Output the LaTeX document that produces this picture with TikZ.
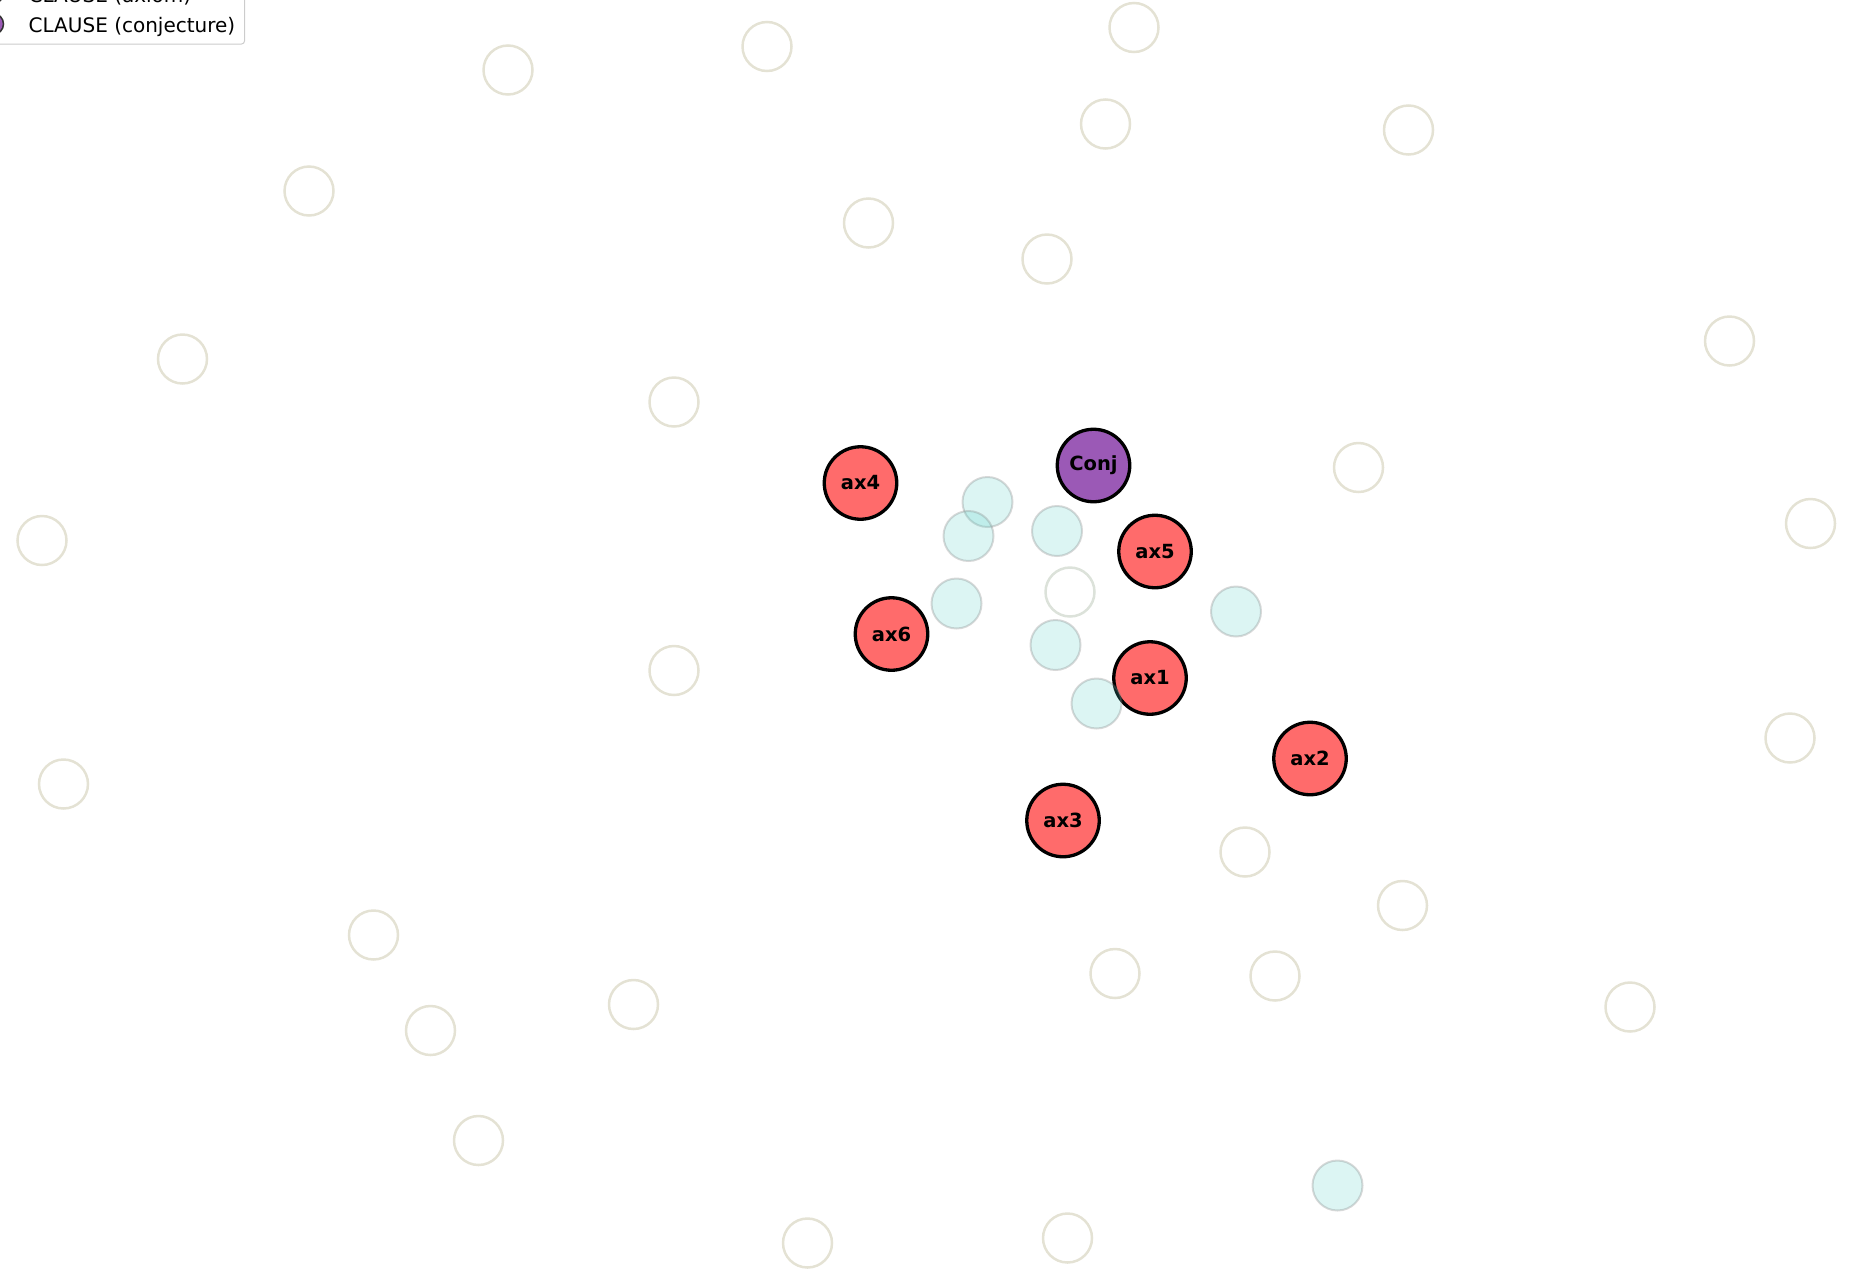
\documentclass[tikz,border=0pt]{standalone}
\usepackage{fontspec}
\setmainfont{DejaVu Sans}
\definecolor{axred}{HTML}{FF6B6B}
\definecolor{conjpurple}{HTML}{9B59B6}
\definecolor{tealfill}{HTML}{4ECDC4}
\definecolor{beige}{HTML}{E4E2D4}
\definecolor{whiteedge}{HTML}{DCE2DA}
\definecolor{legendedge}{HTML}{CCCCCC}
\tikzset{
  mainnode/.style={circle, draw=black, line width=3.3pt, minimum size=72.5pt, inner sep=0pt, font=\fontsize{19.5}{20}\selectfont\bfseries},
  axnode/.style={mainnode, fill=axred},
  conjnode/.style={mainnode, fill=conjpurple},
  tealnode/.style={circle, fill=tealfill, fill opacity=0.2, draw=gray, draw opacity=0.3, line width=2pt, minimum size=50pt, inner sep=0pt},
  beigenode/.style={circle, draw=beige, line width=2.5pt, minimum size=49pt, inner sep=0pt},
  whitenode/.style={circle, draw=whiteedge, fill=white, line width=2.5pt, minimum size=49pt, inner sep=0pt},
  legtext/.style={anchor=west, inner sep=0pt, font=\fontsize{20}{22}\selectfont},
  legmark/.style={circle, draw=black!80, line width=1.5pt, minimum size=21pt, inner sep=0pt},
}
\begin{document}
\begin{tikzpicture}[x=1pt, y=-1pt]
\useasboundingbox (0,0) rectangle (1870,1275);
\clip (0,0) rectangle (1870,1275);
% beige outline circles
\node[beigenode] (b1) at (508,70) {};
\node[beigenode] (b2) at (767,46.5) {};
\node[beigenode] (b3) at (1134,27.5) {};
\node[beigenode] (b4) at (1105.5,124) {};
\node[beigenode] (b5) at (1408.5,130) {};
\node[beigenode] (b6) at (309,191) {};
\node[beigenode] (b7) at (868.5,223) {};
\node[beigenode] (b8) at (1047,259) {};
\node[beigenode] (b9) at (182.5,359) {};
\node[beigenode] (b10) at (1729.5,341) {};
\node[beigenode] (b11) at (674,402) {};
\node[beigenode] (b12) at (1358.5,467.5) {};
\node[beigenode] (b13) at (42,540.5) {};
\node[beigenode] (b14) at (1810.5,523.5) {};
\node[beigenode] (b15) at (674,670.5) {};
\node[beigenode] (b16) at (1790,738) {};
\node[beigenode] (b17) at (63.5,784) {};
\node[beigenode] (b18) at (1245,852) {};
\node[beigenode] (b19) at (1402.5,905.5) {};
\node[beigenode] (b20) at (373.5,935) {};
\node[beigenode] (b21) at (1115,973.5) {};
\node[beigenode] (b22) at (1275,976) {};
\node[beigenode] (b23) at (1630,1007) {};
\node[beigenode] (b24) at (430.5,1030.5) {};
\node[beigenode] (b25) at (633.5,1004.5) {};
\node[beigenode] (b26) at (478.5,1140.5) {};
\node[beigenode] (b27) at (807.5,1243) {};
\node[beigenode] (b28) at (1067.5,1238) {};
\node[whitenode] (w1) at (1070,592) {};
% main nodes
\node[conjnode] (conj) at (1093.5,465.5) {Conj};
\node[axnode] (ax4) at (860.5,483) {ax4};
\node[axnode] (ax5) at (1155,551.5) {ax5};
\node[axnode] (ax6) at (891.5,634) {ax6};
\node[axnode] (ax1) at (1150,678) {ax1};
\node[axnode] (ax2) at (1310,758.5) {ax2};
\node[axnode] (ax3) at (1063,820.5) {ax3};
% teal circles
\node[tealnode] (t1) at (987.5,502) {};
\node[tealnode] (t2) at (968.5,536) {};
\node[tealnode] (t3) at (1057,531) {};
\node[tealnode] (t4) at (956.5,603.5) {};
\node[tealnode] (t5) at (1055.5,645) {};
\node[tealnode] (t6) at (1096.5,703.5) {};
\node[tealnode] (t7) at (1236,611.5) {};
\node[tealnode] (t8) at (1337.5,1185.5) {};
% legend
\path[draw=legendedge, line width=1pt, fill=white, fill opacity=0.8, rounded corners=3pt] (-30,-40) rectangle (244.5,44);
\node[legmark, fill=axred] (lm1) at (-7,-7) {};
\node[legmark, fill=conjpurple] (lm2) at (-7,24) {};
\node[legtext] (lt1) at (28.5,-4) {CLAUSE (axiom)};
\node[legtext] (lt2) at (28.5,26.5) {CLAUSE (conjecture)};
\end{tikzpicture}
\end{document}
